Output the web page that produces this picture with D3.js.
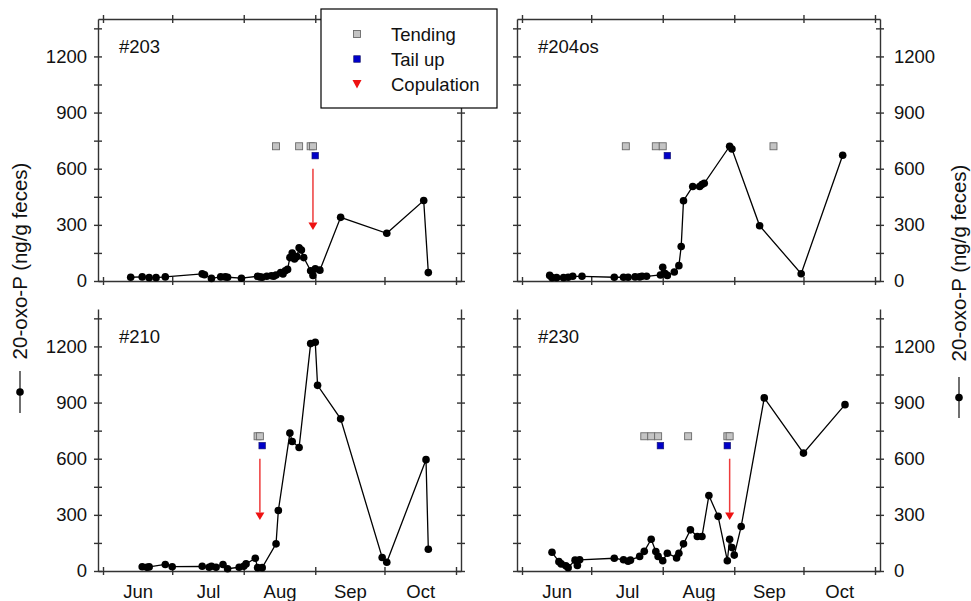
<!DOCTYPE html>
<html>
<head>
<meta charset="utf-8">
<script src="https://cdn.jsdelivr.net/npm/d3@7"></script>
<style>
    body { margin: 0; background: #fff; }
    svg { font-family: "Liberation Sans", Arial, Helvetica, sans-serif; }
</style>
</head>
<body>
<svg id="chart" width="971" height="601"></svg>
<script>
// Tick values
const yTicks = [0, 300, 600, 900, 1200];
const yMinorTicks = [150, 450, 750, 1050, 1350];
const monthLabels = ["Jun", "Jul", "Aug", "Sep", "Oct"];

// #203
const dates203 = ["Jun 13", "Jun 18", "Jun 21", "Jun 24", "Jun 28", "Jul 14", "Jul 15", "Jul 18", "Jul 22", "Jul 24", "Jul 25", "Jul 31",
    "Aug 7", "Aug 8", "Aug 9", "Aug 11", "Aug 13", "Aug 14", "Aug 15", "Aug 17", "Aug 18", "Aug 19", "Aug 20", "Aug 21", "Aug 22",
    "Aug 23", "Aug 24", "Aug 25", "Aug 26", "Aug 27", "Aug 30", "Aug 31", "Sep 1", "Sep 3", "Sep 12", "Oct 2", "Oct 18", "Oct 20"];
const values203 = [20, 22, 18, 18, 22, 38, 33, 14, 22, 22, 20, 15,
    25, 22, 20, 25, 28, 25, 32, 45, 38, 55, 62, 125, 150,
    118, 130, 178, 165, 125, 55, 30, 65, 58, 340, 255, 430, 45];
const tending203 = ["Aug 15", "Aug 25", "Aug 30", "Aug 31"];
const tailUp203 = ["Sep 1"];
const copulation203 = ["Aug 31"];

// #204os
const dates204 = ["Jun 13", "Jun 14", "Jun 16", "Jun 19", "Jun 21", "Jun 23", "Jun 27", "Jul 11", "Jul 15", "Jul 17", "Jul 20",
    "Jul 22", "Jul 23", "Jul 25", "Jul 31", "Aug 1", "Aug 2", "Aug 3", "Aug 6", "Aug 8", "Aug 9", "Aug 10", "Aug 14", "Aug 17",
    "Aug 18", "Aug 19", "Aug 30", "Aug 31", "Sep 12", "Sep 30", "Oct 18"];
const values204 = [30, 18, 18, 18, 20, 25, 25, 20, 20, 20, 22,
    22, 25, 25, 32, 73, 40, 30, 48, 82, 184, 429, 505, 505,
    515, 522, 720, 705, 295, 39, 672];
const tending204 = ["Jul 16", "Jul 29", "Aug 1", "Sep 18"];
const tailUp204 = ["Aug 3"];
const copulation204 = [];

// #210
const dates210 = ["Jun 18", "Jun 20", "Jun 21", "Jun 28", "Jul 1", "Jul 14", "Jul 17", "Jul 18", "Jul 20", "Jul 23", "Jul 25",
    "Jul 30", "Aug 1", "Aug 2", "Aug 6", "Aug 7", "Aug 9", "Aug 15", "Aug 16", "Aug 21", "Aug 22", "Aug 25", "Aug 30", "Sep 1",
    "Sep 2", "Sep 12", "Sep 30", "Oct 2", "Oct 19", "Oct 20"];
const values210 = [23, 20, 22, 35, 23, 25, 20, 25, 20, 35, 12,
    20, 25, 38, 68, 18, 18, 145, 323, 737, 692, 660, 1215, 1222,
    992, 813, 72, 47, 595, 116];
const tending210 = ["Aug 7", "Aug 8"];
const tailUp210 = ["Aug 9"];
const copulation210 = ["Aug 8"];

// #230
const dates230 = ["Jun 14", "Jun 17", "Jun 18", "Jun 20", "Jun 21", "Jun 24", "Jun 25", "Jun 26", "Jul 11", "Jul 15", "Jul 17",
    "Jul 18", "Jul 22", "Jul 24", "Jul 27", "Jul 29", "Jul 30", "Aug 1", "Aug 3", "Aug 7", "Aug 8", "Aug 10", "Aug 13", "Aug 16",
    "Aug 18", "Aug 21", "Aug 25", "Aug 29", "Aug 30", "Aug 31", "Sep 1", "Sep 4", "Sep 14", "Oct 1", "Oct 19"];
const values230 = [100, 50, 38, 28, 18, 58, 30, 60, 68, 60, 52,
    58, 78, 105, 170, 104, 78, 55, 95, 70, 95, 145, 220, 184,
    184, 403, 292, 55, 170, 125, 85, 238, 925, 630, 889];
const tending230 = ["Jul 24", "Jul 27", "Jul 30", "Aug 12", "Aug 29", "Aug 30"];
const tailUp230 = ["Jul 31", "Aug 29"];
const copulation230 = ["Aug 30"];

// marker levels (in y units)
const tendingLevel = 720;
const tailUpLevel = 670;
const arrowTop = 600;
const arrowTipTop = 312;
const arrowTip = 272;

const parseDate = (s) => d3.timeParse("%b %d %Y")(s + " 2000");

const panels = [
    { name: "#203", dates: dates203, values: values203, tending: tending203, tailUp: tailUp203, copulation: copulation203, col: 0, row: 0 },
    { name: "#204os", dates: dates204, values: values204, tending: tending204, tailUp: tailUp204, copulation: copulation204, col: 1, row: 0 },
    { name: "#210", dates: dates210, values: values210, tending: tending210, tailUp: tailUp210, copulation: copulation210, col: 0, row: 1 },
    { name: "#230", dates: dates230, values: values230, tending: tending230, tailUp: tailUp230, copulation: copulation230, col: 1, row: 1 },
];

const svg = d3.select("#chart");
const panelX = [98, 517];
const panelY = [19, 309];
const width = 363;
const height = 262;
const axisColor = "#333";
const fontSize = "18.5px";

// Shared scales
const x = d3.scaleTime()
    .domain([new Date(2000, 4, 29, 20), new Date(2000, 10, 3, 4)])
    .range([0, width]);
const y = d3.scaleLinear().domain([0, 1400]).range([height, 0]);

const monthStarts = d3.timeMonth.range(new Date(2000, 5, 1), new Date(2000, 10, 2));
const monthMids = monthStarts.slice(0, 5).map((m, i) => new Date((+m + +monthStarts[i + 1]) / 2));

const styleAxis = (g) => {
    g.select(".domain").attr("stroke", axisColor).attr("stroke-width", 1.4);
    g.selectAll(".tick line").attr("stroke", axisColor).attr("stroke-width", 1.4);
    g.selectAll(".tick text").attr("fill", "#111").style("font-size", fontSize);
};

panels.forEach((p) => {
    const g = svg.append("g")
        .attr("transform", `translate(${panelX[p.col]},${panelY[p.row]})`);

    // Left axis
    const left = g.append("g")
        .call(d3.axisLeft(y).tickValues(yTicks.concat(yMinorTicks)).tickSize(4).tickSizeOuter(0)
            .tickFormat((v) => (p.col === 0 && yTicks.includes(v) ? v : "")));
    left.selectAll(".tick line").attr("x1", 4);
    left.selectAll(".tick text").attr("x", -11);
    styleAxis(left);

    // Right axis
    const right = g.append("g")
        .attr("transform", `translate(${width},0)`)
        .call(d3.axisRight(y).tickValues(yTicks.concat(yMinorTicks)).tickSize(4).tickSizeOuter(0)
            .tickFormat((v) => (p.col === 1 && yTicks.includes(v) ? v : "")));
    right.selectAll(".tick line").attr("x1", -4);
    right.selectAll(".tick text").attr("x", 14);
    styleAxis(right);

    // Bottom axis
    const bottom = g.append("g")
        .attr("transform", `translate(0,${height})`)
        .call(d3.axisBottom(x).tickValues(monthStarts).tickSize(4).tickSizeOuter(0).tickFormat(""));
    bottom.selectAll(".tick line").attr("y1", -4);
    styleAxis(bottom);

    // Top axis only for upper panels
    if (p.row === 0) {
        const top = g.append("g")
            .call(d3.axisTop(x).tickValues(monthStarts).tickSize(4).tickSizeOuter(0).tickFormat(""));
        top.selectAll(".tick line").attr("y1", 4);
        styleAxis(top);
    } else {
        // Month labels
        const labels = g.append("g")
            .attr("transform", `translate(0,${height})`)
            .call(d3.axisBottom(x).tickValues(monthMids).tickSize(0)
                .tickFormat((d, i) => monthLabels[i]));
        labels.select(".domain").remove();
        labels.selectAll(".tick text").attr("y", 27).attr("dy", 0)
            .attr("fill", "#111").style("font-size", fontSize);
    }

    // Panel name
    g.append("text")
        .attr("x", 21)
        .attr("y", 34)
        .style("font-size", fontSize)
        .attr("fill", "#111")
        .text(p.name);

    // Series line and dots
    const points = p.dates.map((d, i) => ({ date: parseDate(d), value: p.values[i] }));
    const line = d3.line().x((d) => x(d.date)).y((d) => y(d.value));
    g.append("path")
        .datum(points)
        .attr("fill", "none")
        .attr("stroke", "#000")
        .attr("stroke-width", 1.3)
        .attr("d", line);
    g.selectAll("circle.dot")
        .data(points)
        .enter()
        .append("circle")
        .attr("class", "dot")
        .attr("cx", (d) => x(d.date))
        .attr("cy", (d) => y(d.value))
        .attr("r", 3.8)
        .attr("fill", "#000");

    // Tending squares
    g.selectAll("rect.tending")
        .data(p.tending.map(parseDate))
        .enter()
        .append("rect")
        .attr("class", "tending")
        .attr("x", (d) => x(d) - 3.5)
        .attr("y", y(tendingLevel) - 3.5)
        .attr("width", 7)
        .attr("height", 7)
        .attr("fill", "#c4c4c4")
        .attr("stroke", "#6a6a6a")
        .attr("stroke-width", 0.9);

    // Tail up squares
    g.selectAll("rect.tailup")
        .data(p.tailUp.map(parseDate))
        .enter()
        .append("rect")
        .attr("class", "tailup")
        .attr("x", (d) => x(d) - 3.3)
        .attr("y", y(tailUpLevel) - 3.3)
        .attr("width", 6.6)
        .attr("height", 6.6)
        .attr("fill", "#0000c8")
        .attr("stroke", "#1a1a6a")
        .attr("stroke-width", 0.6);

    // Copulation arrows
    const cop = g.selectAll("g.cop")
        .data(p.copulation.map(parseDate))
        .enter()
        .append("g")
        .attr("class", "cop");
    cop.append("line")
        .attr("x1", (d) => x(d))
        .attr("x2", (d) => x(d))
        .attr("y1", y(arrowTop))
        .attr("y2", y(arrowTipTop))
        .attr("stroke", "#ee3b3b")
        .attr("stroke-width", 1.5);
    cop.append("path")
        .attr("d", (d) => `M${x(d) - 4.5},${y(arrowTipTop)}L${x(d) + 4.5},${y(arrowTipTop)}L${x(d)},${y(arrowTip)}Z`)
        .attr("fill", "#ee1111");
});

// Y axis titles with line+dot symbol
const yTitle = (cx, cy, baselineX, symX, symY0, symY1) => {
    svg.append("text")
        .attr("transform", `translate(${baselineX},${cy}) rotate(-90)`)
        .attr("text-anchor", "middle")
        .style("font-size", "20.5px")
        .attr("fill", "#111")
        .text("20-oxo-P (ng/g feces)");
    svg.append("line")
        .attr("x1", symX).attr("x2", symX)
        .attr("y1", symY0).attr("y2", symY1)
        .attr("stroke", "#222").attr("stroke-width", 1.3);
    svg.append("circle")
        .attr("cx", symX).attr("cy", (symY0 + symY1) / 2)
        .attr("r", 3.8).attr("fill", "#000");
};
yTitle(20, 261, 27, 20, 371, 413);
yTitle(959, 263, 966, 959, 377, 418);

// Legend
const legend = svg.append("g").attr("transform", "translate(321,9)");
legend.append("rect")
    .attr("width", 176)
    .attr("height", 99)
    .attr("fill", "#fff")
    .attr("stroke", "#000")
    .attr("stroke-width", 1.2);
const legendItems = ["Tending", "Tail up", "Copulation"];
legendItems.forEach((label, i) => {
    const cy = 25 + i * 25;
    if (i === 0) {
        legend.append("rect").attr("x", 32.5).attr("y", cy - 3.5).attr("width", 7).attr("height", 7)
            .attr("fill", "#c4c4c4").attr("stroke", "#6a6a6a").attr("stroke-width", 0.9);
    } else if (i === 1) {
        legend.append("rect").attr("x", 32.7).attr("y", cy - 3.3).attr("width", 6.6).attr("height", 6.6)
            .attr("fill", "#0000c8").attr("stroke", "#1a1a6a").attr("stroke-width", 0.6);
    } else {
        legend.append("path")
            .attr("d", `M${36 - 4.5},${cy - 4}L${36 + 4.5},${cy - 4}L36,${cy + 4.5}Z`)
            .attr("fill", "#ee1111");
    }
    legend.append("text")
        .attr("x", 70)
        .attr("y", cy + 6.5)
        .style("font-size", fontSize)
        .attr("fill", "#111")
        .text(label);
});
</script>
</body>
</html>
